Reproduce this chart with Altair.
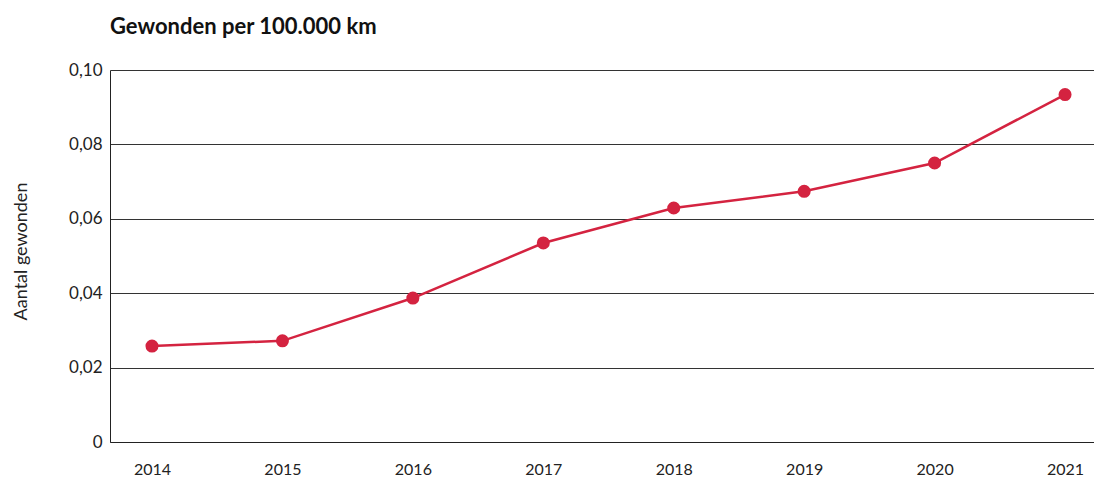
import altair as alt
import pandas as pd

years = ["2014", "2015", "2016", "2017", "2018", "2019", "2020", "2021"]
values = [0.0258, 0.0272, 0.0387, 0.0535, 0.0629, 0.0674, 0.0750, 0.0934]

df = pd.DataFrame({"jaar": [int(j) for j in years], "gewonden": values})

FONT = "Lato"
RED = "#D42340"

x = alt.X("jaar:Q",
          scale=alt.Scale(domain=[2013.678, 2021.222], nice=False, zero=False),
          axis=alt.Axis(title=None, values=[int(j) for j in years], format="d",
                        labelAngle=0, ticks=False, domain=True, domainColor="#222",
                        grid=False, labelPadding=19, labelFontSize=16, labelFont=FONT,
                        labelColor="#222"))
y = alt.Y("gewonden:Q",
          scale=alt.Scale(domain=[0, 0.1], nice=False),
          axis=alt.Axis(title="Aantal gewonden", values=[0, 0.02, 0.04, 0.06, 0.08, 0.1],
                        labelExpr="datum.value == 0 ? '0' : replace(format(datum.value, '.2f'), '.', ',')",
                        ticks=False, domain=True, domainColor="#222", domainWidth=1,
                        grid=True, gridColor="#333", gridWidth=1, gridOpacity=1,
                        labelPadding=8, labelFontSize=17, labelFont=FONT, labelColor="#222",
                        titleFont=FONT, titleFontSize=18, titleFontWeight="normal",
                        titleColor="#222", titleX=-80, titleY=181, titleAngle=-90,
                        titleAlign="center", titleBaseline="bottom"))

line = alt.Chart(df).mark_line(color=RED, strokeWidth=2.5).encode(x=x, y=y)
pts = alt.Chart(df).mark_circle(color=RED, size=170, opacity=1).encode(x=x, y=y)

chart = alt.layer(line, pts).properties(
    width=984, height=372,
    title=alt.TitleParams("Gewonden per 100.000 km", anchor="start", frame="group",
                          font=FONT, fontSize=22, fontWeight="bold", color="#111",
                          offset=22),
    autosize=alt.AutoSizeParams(type="none"),
    padding={"left": 102, "top": 62, "right": 0, "bottom": 40},
).configure_view(stroke=None)

chart.save("out.html", embed_options={"renderer": "svg", "actions": False})
